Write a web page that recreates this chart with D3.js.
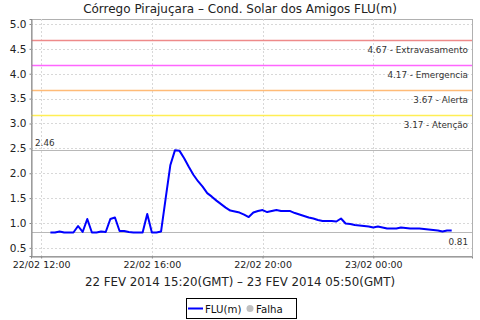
<!DOCTYPE html>
<html><head><meta charset="utf-8">
<script src="https://cdn.jsdelivr.net/npm/d3@7"></script>
<style>
html,body{margin:0;padding:0;background:#fff;}
svg{display:block;font-family:"DejaVu Sans",sans-serif;}
</style></head>
<body><svg id="c" width="480" height="320"></svg>
<script>
const title = "Córrego Pirajuçara – Cond. Solar dos Amigos FLU(m)";
const xTitle = "22 FEV 2014 15:20(GMT) – 23 FEV 2014 05:50(GMT)";
const times = [
"2014-02-22 12:20","2014-02-22 12:30","2014-02-22 12:40","2014-02-22 12:50","2014-02-22 13:00","2014-02-22 13:10",
"2014-02-22 13:20","2014-02-22 13:30","2014-02-22 13:40","2014-02-22 13:50","2014-02-22 14:00","2014-02-22 14:10",
"2014-02-22 14:20","2014-02-22 14:30","2014-02-22 14:40","2014-02-22 14:50","2014-02-22 15:00","2014-02-22 15:10",
"2014-02-22 15:20","2014-02-22 15:30","2014-02-22 15:40","2014-02-22 15:50","2014-02-22 16:00","2014-02-22 16:10",
"2014-02-22 16:20","2014-02-22 16:30","2014-02-22 16:40","2014-02-22 16:50","2014-02-22 17:00","2014-02-22 17:10",
"2014-02-22 17:20","2014-02-22 17:30","2014-02-22 17:40","2014-02-22 17:50","2014-02-22 18:00","2014-02-22 18:10",
"2014-02-22 18:20","2014-02-22 18:30","2014-02-22 18:40","2014-02-22 18:50","2014-02-22 19:00","2014-02-22 19:10",
"2014-02-22 19:20","2014-02-22 19:30","2014-02-22 19:40","2014-02-22 19:50","2014-02-22 20:00","2014-02-22 20:10",
"2014-02-22 20:20","2014-02-22 20:30","2014-02-22 20:40","2014-02-22 20:50","2014-02-22 21:00","2014-02-22 21:10",
"2014-02-22 21:20","2014-02-22 21:30","2014-02-22 21:40","2014-02-22 21:50","2014-02-22 22:00","2014-02-22 22:10",
"2014-02-22 22:20","2014-02-22 22:30","2014-02-22 22:40","2014-02-22 22:50","2014-02-22 23:00","2014-02-22 23:10",
"2014-02-22 23:20","2014-02-22 23:30","2014-02-22 23:40","2014-02-22 23:50","2014-02-23 00:00","2014-02-23 00:10",
"2014-02-23 00:20","2014-02-23 00:30","2014-02-23 00:40","2014-02-23 00:50","2014-02-23 01:00","2014-02-23 01:10",
"2014-02-23 01:20","2014-02-23 01:30","2014-02-23 01:40","2014-02-23 01:50","2014-02-23 02:00","2014-02-23 02:10",
"2014-02-23 02:20","2014-02-23 02:30","2014-02-23 02:40","2014-02-23 02:50"];
const flu = [
0.81,0.81,0.83,0.81,0.81,0.81,
0.94,0.82,1.08,0.81,0.81,0.83,
0.82,1.08,1.11,0.84,0.84,0.82,
0.81,0.81,0.81,1.18,0.81,0.81,
0.83,1.50,2.16,2.46,2.45,2.30,
2.13,1.97,1.84,1.73,1.60,1.53,
1.45,1.38,1.31,1.25,1.23,1.21,
1.17,1.12,1.21,1.24,1.26,1.22,
1.24,1.26,1.24,1.24,1.24,1.20,
1.17,1.14,1.11,1.09,1.06,1.04,
1.04,1.04,1.03,1.09,0.99,0.98,
0.96,0.95,0.94,0.93,0.91,0.93,
0.91,0.89,0.89,0.89,0.91,0.90,
0.89,0.89,0.89,0.88,0.87,0.86,
0.85,0.83,0.85,0.85];
const thresholdValues = [4.67, 4.17, 3.67, 3.17];
const thresholdNames = ["Extravasamento", "Emergencia", "Alerta", "Atenção"];
const thresholdColors = ["#ee8a8a", "#ff66ff", "#ffbb77", "#ffee55"];
const yTicks = [0.5,1.0,1.5,2.0,2.5,3.0,3.5,4.0,4.5,5.0];
const xTickTimes = ["2014-02-22 12:00","2014-02-22 16:00","2014-02-22 20:00","2014-02-23 00:00"];
const xDomain = ["2014-02-22 11:38","2014-02-23 03:34"];
const yDomain = [0.337, 5.1];
const legendNames = ["FLU(m)", "Falha"];

const parse = d3.utcParse("%Y-%m-%d %H:%M");
const data = times.map((t,i)=>({t:parse(t), v:flu[i]}));
const L=31, R=472, T=19, B=256;
const svg = d3.select("#c");
const x = d3.scaleUtc().domain(xDomain.map(parse)).range([L,R]);
const y = d3.scaleLinear().domain(yDomain).range([B,T]);

// plot background + border
svg.append("rect").attr("x",L+0.5).attr("y",T+0.5).attr("width",R-L).attr("height",B-T)
  .attr("fill","#fff").attr("stroke","#b0b0b0").attr("stroke-width",1);

// gridlines
svg.append("g").selectAll("line").data(yTicks).join("line")
  .attr("x1",L).attr("x2",R).attr("y1",d=>Math.round(y(d))+0.5).attr("y2",d=>Math.round(y(d))+0.5)
  .attr("stroke","#d8d8d8").attr("stroke-dasharray","2,2");
svg.append("g").selectAll("line").data(xTickTimes.map(parse)).join("line")
  .attr("y1",T).attr("y2",B).attr("x1",d=>Math.round(x(d))+0.5).attr("x2",d=>Math.round(x(d))+0.5)
  .attr("stroke","#d8d8d8").attr("stroke-dasharray","2,2");

// threshold lines
thresholdValues.forEach((v,i)=>{
  const yy = Math.round(y(v))+0.5;
  svg.append("line").attr("x1",L).attr("x2",R).attr("y1",yy).attr("y2",yy)
    .attr("stroke",thresholdColors[i]).attr("stroke-width",1.3);
  svg.append("text").attr("x",R-4).attr("y",yy+12).attr("text-anchor","end")
    .attr("font-size",8.8).attr("fill","#333").text(d3.format(".2f")(v)+" - "+thresholdNames[i]);
});

// max / min markers
const vMax = d3.max(flu), vMin = d3.min(flu);
const yMax = Math.round(y(vMax))+0.5, yMin = Math.round(y(vMin))+0.5;
svg.append("line").attr("x1",L).attr("x2",R).attr("y1",yMax).attr("y2",yMax).attr("stroke","#b8b8b8");
svg.append("line").attr("x1",L).attr("x2",R).attr("y1",yMin).attr("y2",yMin).attr("stroke","#b8b8b8");
svg.append("text").attr("x",L+4).attr("y",yMax-5).attr("font-size",8.8).attr("fill","#333").text(d3.format(".2f")(vMax));
svg.append("text").attr("x",R-4).attr("y",yMin+12).attr("text-anchor","end").attr("font-size",8.8).attr("fill","#333").text(d3.format(".2f")(vMin));

// series line
svg.append("path").datum(data)
  .attr("d", d3.line().x(d=>x(d.t)).y(d=>y(d.v)))
  .attr("fill","none").attr("stroke","#0000ff").attr("stroke-width",2).attr("stroke-linejoin","round");

// axes
const yAxis = d3.axisLeft(y).tickValues(yTicks).tickFormat(d3.format(".1f")).tickSize(2).tickPadding(3);
const gy = svg.append("g").attr("transform",`translate(${L+0.5},0)`).call(yAxis);
gy.select(".domain").attr("stroke","#888");
gy.selectAll(".tick line").attr("stroke","#888");
gy.selectAll("text").attr("font-size",10.5).attr("fill","#222").attr("font-family","DejaVu Sans");

const xAxis = d3.axisBottom(x).tickValues(xTickTimes.map(parse)).tickFormat(d3.utcFormat("%d/%m %H:%M")).tickSize(2).tickPadding(3);
const gx = svg.append("g").attr("transform",`translate(0,${B+0.5})`).call(xAxis);
gx.select(".domain").attr("stroke","#888");
gx.selectAll(".tick line").attr("stroke","#888");
gx.selectAll("text").attr("font-size",9.5).attr("fill","#222").attr("font-family","DejaVu Sans");

// titles
svg.append("text").attr("x",240).attr("y",13).attr("text-anchor","middle").attr("font-size",12).attr("fill","#222").text(title);
svg.append("text").attr("x",240).attr("y",286).attr("text-anchor","middle").attr("font-size",11.8).attr("fill","#222").text(xTitle);

// legend
const lg = svg.append("g");
lg.append("rect").attr("x",186.5).attr("y",298.5).attr("width",110).attr("height",20).attr("fill","#fff").attr("stroke","#000");
lg.append("line").attr("x1",188).attr("x2",203).attr("y1",308.5).attr("y2",308.5).attr("stroke","#0000ff").attr("stroke-width",2);
lg.append("text").attr("x",205).attr("y",312.5).attr("font-size",10.2).attr("fill","#111").text(legendNames[0]);
lg.append("circle").attr("cx",250).attr("cy",308.5).attr("r",3.5).attr("fill","#c0c0c0");
lg.append("text").attr("x",256).attr("y",312.5).attr("font-size",10.2).attr("fill","#111").text(legendNames[1]);
</script></body></html>
